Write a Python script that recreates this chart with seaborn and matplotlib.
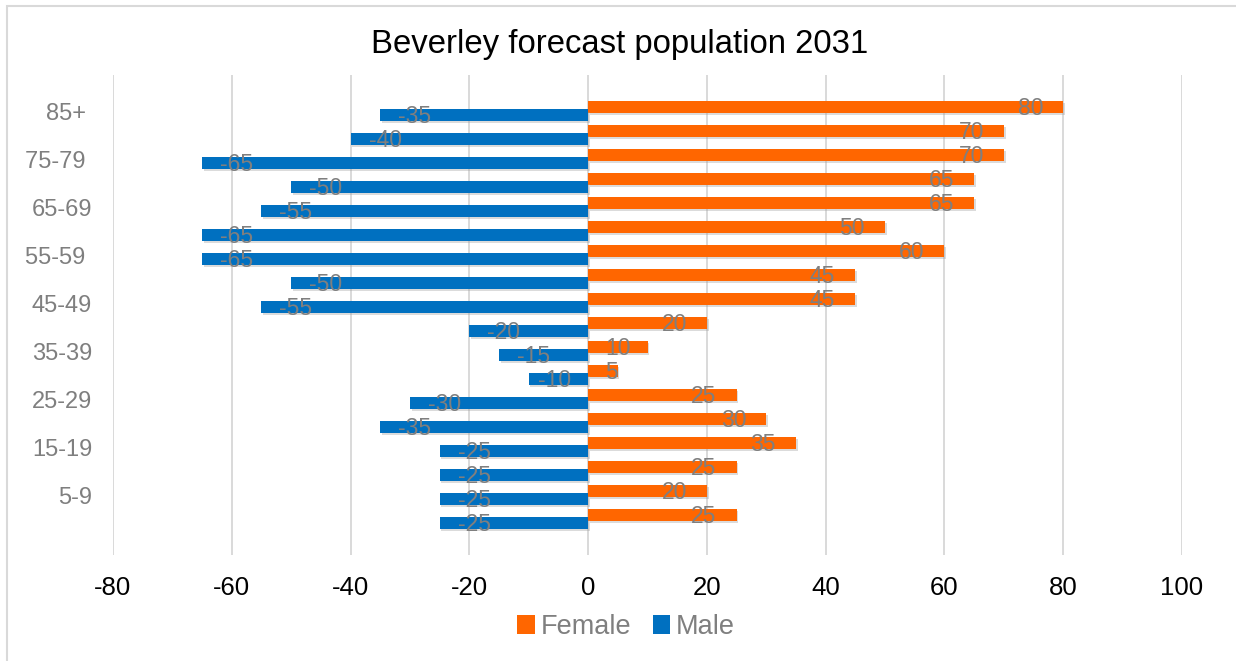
import matplotlib
matplotlib.use("Agg")
import matplotlib.pyplot as plt
import seaborn as sns
import pandas as pd
import numpy as np
from matplotlib import patheffects as pe
from matplotlib.patches import Rectangle, Patch

# Age bands from youngest (bottom) to oldest (top)
age_groups = ["0-4", "5-9", "10-14", "15-19", "20-24", "25-29", "30-34", "35-39",
              "40-44", "45-49", "50-54", "55-59 ", "60-64", "65-69", "70-74",
              "75-79 ", "80-84", "85+ "]
female = [25, 20, 25, 35, 30, 25, 5, 10, 20, 45, 45, 60, 50, 65, 65, 70, 70, 80]
male = [-25, -25, -25, -25, -35, -30, -10, -15, -20, -55, -50, -65, -65, -55, -50,
        -65, -40, -35]
x_ticks = [-80, -60, -40, -20, 0, 20, 40, 60, 80, 100]

ORANGE = "#FF6600"
BLUE = "#0070C0"
GREY_TXT = "#7F7F7F"
GRID = "#D9D9D9"

sns.set_theme(style="white")
plt.rcParams["font.family"] = ["Liberation Sans", "DejaVu Sans"]

fig = plt.figure(figsize=(12.36, 6.61), dpi=100)
ax = fig.add_axes([113 / 1236, 1 - 555 / 661, (1182 - 113) / 1236, (555 - 75) / 661])

idx = np.arange(len(age_groups))
shift = 0.167
df_f = pd.DataFrame({"pos": idx + shift, "value": female})
df_m = pd.DataFrame({"pos": idx - shift, "value": male})

shadow = [pe.SimplePatchShadow(offset=(1.2, -1.8), shadow_rgbFace="#9a9a9a", alpha=0.35),
          pe.Normal()]

sns.barplot(data=df_f, x="value", y="pos", orient="y", native_scale=True,
            width=0.5, color=ORANGE, saturation=1, errorbar=None, linewidth=0, ax=ax)
sns.barplot(data=df_m, x="value", y="pos", orient="y", native_scale=True,
            width=0.46, color=BLUE, saturation=1, errorbar=None, linewidth=0, ax=ax)
for p in ax.patches:
    p.set_path_effects(shadow)

ax.set_xlim(-80, 100)
ax.set_ylim(-1.5, 18.5)
ax.set_xticks(x_ticks)
ax.set_xticklabels([str(v) for v in x_ticks], fontsize=18.5, color="black")
ax.set_yticks(idx[1::2])
ax.set_yticklabels(age_groups[1::2], fontsize=17, color=GREY_TXT)
ax.tick_params(axis="both", length=0)
ax.tick_params(axis="x", pad=15)
ax.tick_params(axis="y", pad=15)
ax.set_xlabel("")
ax.set_ylabel("")
for s in ax.spines.values():
    s.set_visible(False)
ax.set_axisbelow(True)
ax.grid(axis="x", color=GRID, linewidth=1.4)
ax.grid(axis="y", visible=False)

# Value labels at the inside end of each bar
label_kw = dict(fontsize=16.5, color=GREY_TXT, va="center", textcoords="offset points")
end_gap = 20 * 0.72
male_gap = 18 * 0.72
min_gap = 17
labels = []
for y, v in zip(idx + shift, female):
    t = ax.annotate(str(v), xy=(v, y), xytext=(-end_gap, -1.0), ha="right", **label_kw)
    labels.append((t, "f", y))
for y, v in zip(idx - shift, male):
    t = ax.annotate(str(v), xy=(v, y), xytext=(male_gap, -1.0), ha="left", **label_kw)
    labels.append((t, "m", y))

fig.canvas.draw()
renderer = fig.canvas.get_renderer()
zero_px = ax.transData.transform((0, 0))[0]
for t, side, y in labels:
    bb = t.get_window_extent(renderer)
    if side == "f" and bb.x0 < zero_px + min_gap:
        t.xy = (0, y)
        t.set_ha("left")
        t.xyann = (min_gap * 0.72, -1.0)
    elif side == "m" and bb.x1 > zero_px - min_gap:
        t.xy = (0, y)
        t.set_ha("right")
        t.xyann = (-min_gap * 0.72, -1.0)

fig.text(620 / 1236, 1 - 53 / 661, "Beverley forecast population 2031",
         ha="center", va="baseline", fontsize=23.7, color="black")

handles = [Patch(facecolor=ORANGE, edgecolor="none"), Patch(facecolor=BLUE, edgecolor="none")]
leg = fig.legend(handles, ["Female", "Male"], loc="center",
                 bbox_to_anchor=(626 / 1236, 1 - 627 / 661), ncol=2, frameon=False,
                 fontsize=19.5, handlelength=0.65, handleheight=0.65,
                 handletextpad=0.2, columnspacing=0.8)
for txt in leg.get_texts():
    txt.set_color(GREY_TXT)

# Chart-area border (left and top edges fall inside the canvas)
fig.patches.append(Rectangle((6.5 / 1236, -0.05), 1.1, 1 - 6 / 661 + 0.05,
                             transform=fig.transFigure, fill=False,
                             edgecolor=GRID, linewidth=1.5))

fig.savefig("out.png", dpi=100)
